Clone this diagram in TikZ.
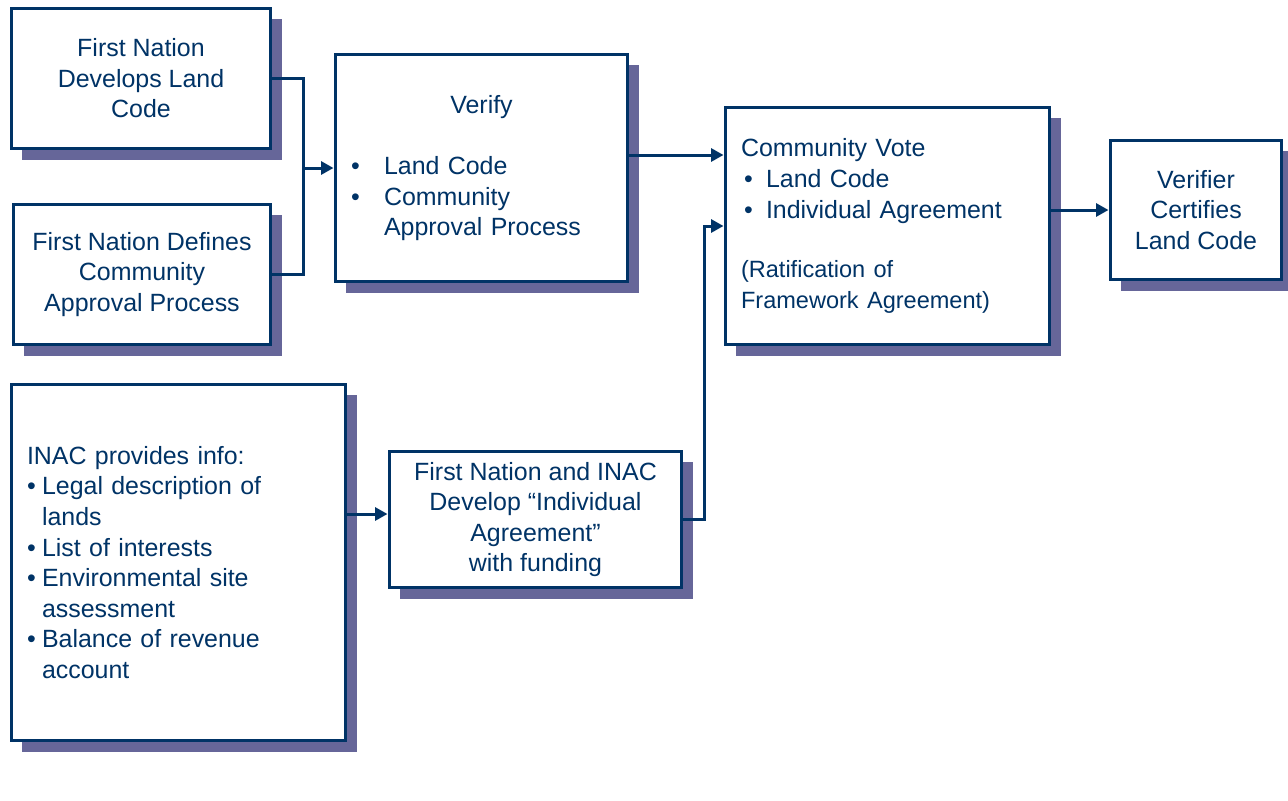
\documentclass[tikz,border=0pt]{standalone}
\usepackage{fontspec}
\setmainfont{Liberation Sans}
\usetikzlibrary{shadows,arrows.meta}
\definecolor{navy}{RGB}{0,51,102}
\definecolor{slate}{RGB}{102,102,153}
\newcommand{\blt}[1]{\makebox[#1][l]{\textbullet}}
\begin{document}
\begin{tikzpicture}[x=0.02cm, y=-0.02cm, >={Triangle[length=0.25cm,width=0.26cm]},
  flow node/.style={rectangle, draw=navy, line width=0.06cm, fill=white, text=navy, inner sep=0pt, align=center,
    drop shadow={shadow xshift=0.22cm, shadow yshift=-0.22cm, fill=slate, opacity=1},
    font={\fontsize{14.2}{17.4}\selectfont}},
  link/.style={draw=navy, line width=0.06cm}]
  \useasboundingbox (0,0) rectangle (1288,801);

  \node[flow node, minimum width=5.2cm, minimum height=2.82cm] (1) at (141,78.5) {First Nation\\Develops Land\\Code};
  \node[flow node, minimum width=5.16cm, minimum height=2.82cm] (2) at (142,274.5) {First Nation Defines\\Community\\Approval Process};
  \node[flow node, align=left, minimum width=5.86cm, minimum height=4.56cm, text width=5.22cm] (3) at (481.5,168)
    {\makebox[5.22cm]{Verify}\\[17.4pt]
     \blt{0.66cm}Land Code\\
     \blt{0.66cm}Community\\
     \hspace*{0.66cm}Approval Process};
  \node[flow node, align=left, minimum width=6.5cm, minimum height=4.76cm, text width=5.86cm] (4) at (887.5,226)
    {Community Vote\\
     \hspace*{0.06cm}\blt{0.44cm}Land Code\\
     \hspace*{0.06cm}\blt{0.44cm}Individual Agreement\\[17.4pt]
     {\fontsize{13.4}{16.6}\selectfont (Ratification of\\
     Framework Agreement)}};
  \node[flow node, minimum width=3.44cm, minimum height=2.8cm] (5) at (1196,210) {Verifier\\Certifies\\Land Code};
  \node[flow node, align=left, minimum width=6.7cm, minimum height=7.14cm, text width=6.06cm] (6) at (178.5,562.5)
    {INAC provides info:\\
     \blt{0.3cm}Legal description of\\
     \hspace*{0.3cm}lands\\
     \blt{0.3cm}List of interests\\
     \blt{0.3cm}Environmental site\\
     \hspace*{0.3cm}assessment\\
     \blt{0.3cm}Balance of revenue\\
     \hspace*{0.3cm}account};
  \node[flow node, minimum width=5.86cm, minimum height=2.74cm] (7) at (535.5,519.5) {First Nation and INAC\\Develop “Individual\\Agreement”\\with funding};

  % joins and arrows
  \coordinate (j1) at (303,168);
  \coordinate (j2) at (704,519.5);
  \draw[link] (1.east) -| (j1) |- (2.east);
  \draw[link,->] (j1) -- (3.west);
  \draw[link,->] (3.east |- 0,155) -- (4.west |- 0,155);
  \draw[link,->] (4.east |- 5.west) -- (5.west);
  \draw[link,->] (6.east |- 0,514) -- (7.west |- 0,514);
  \draw[link,->] (7.east) -- (j2) |- (4.west);
\end{tikzpicture}
\end{document}
